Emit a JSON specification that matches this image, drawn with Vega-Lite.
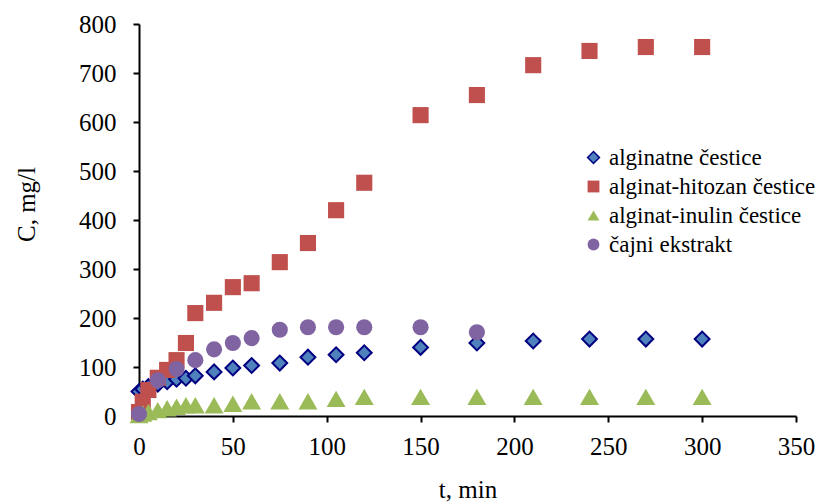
{
  "$schema": "https://vega.github.io/schema/vega-lite/v6.json",
  "width": 657,
  "height": 392,
  "autosize": {"type": "none"},
  "padding": {"left": 139, "top": 24, "right": 36, "bottom": 88},
  "background": "white",
  "config": {
    "view": {"stroke": null},
    "font": "Liberation Serif",
    "style": {"guide-label": {"font": "Liberation Serif", "fill": "black"}, "guide-title": {"font": "Liberation Serif"}},
    "legend": {"labelFont": "Liberation Serif", "labelFontSize": 23, "labelColor": "black"}
  },
  "data": {
    "values": [
      {"s": "alginatne čestice", "t": 0, "C": 50},
      {"s": "alginatne čestice", "t": 2, "C": 55},
      {"s": "alginatne čestice", "t": 5, "C": 60},
      {"s": "alginatne čestice", "t": 10, "C": 65},
      {"s": "alginatne čestice", "t": 15, "C": 70},
      {"s": "alginatne čestice", "t": 20, "C": 75},
      {"s": "alginatne čestice", "t": 25, "C": 77},
      {"s": "alginatne čestice", "t": 30, "C": 82},
      {"s": "alginatne čestice", "t": 40, "C": 90},
      {"s": "alginatne čestice", "t": 50, "C": 98},
      {"s": "alginatne čestice", "t": 60, "C": 103},
      {"s": "alginatne čestice", "t": 75, "C": 108},
      {"s": "alginatne čestice", "t": 90, "C": 120},
      {"s": "alginatne čestice", "t": 105, "C": 125},
      {"s": "alginatne čestice", "t": 120, "C": 129},
      {"s": "alginatne čestice", "t": 150, "C": 140},
      {"s": "alginatne čestice", "t": 180, "C": 149},
      {"s": "alginatne čestice", "t": 210, "C": 153},
      {"s": "alginatne čestice", "t": 240, "C": 157},
      {"s": "alginatne čestice", "t": 270, "C": 157},
      {"s": "alginatne čestice", "t": 300, "C": 157},
      {"s": "alginat-hitozan čestice", "t": 0, "C": 8},
      {"s": "alginat-hitozan čestice", "t": 2, "C": 29},
      {"s": "alginat-hitozan čestice", "t": 5, "C": 53},
      {"s": "alginat-hitozan čestice", "t": 10, "C": 78},
      {"s": "alginat-hitozan čestice", "t": 15, "C": 94},
      {"s": "alginat-hitozan čestice", "t": 20, "C": 114},
      {"s": "alginat-hitozan čestice", "t": 25, "C": 149},
      {"s": "alginat-hitozan čestice", "t": 30, "C": 210},
      {"s": "alginat-hitozan čestice", "t": 40, "C": 231},
      {"s": "alginat-hitozan čestice", "t": 50, "C": 263},
      {"s": "alginat-hitozan čestice", "t": 60, "C": 271},
      {"s": "alginat-hitozan čestice", "t": 75, "C": 314},
      {"s": "alginat-hitozan čestice", "t": 90, "C": 353},
      {"s": "alginat-hitozan čestice", "t": 105, "C": 420},
      {"s": "alginat-hitozan čestice", "t": 120, "C": 476},
      {"s": "alginat-hitozan čestice", "t": 150, "C": 614},
      {"s": "alginat-hitozan čestice", "t": 180, "C": 655},
      {"s": "alginat-hitozan čestice", "t": 210, "C": 716},
      {"s": "alginat-hitozan čestice", "t": 240, "C": 745},
      {"s": "alginat-hitozan čestice", "t": 270, "C": 753},
      {"s": "alginat-hitozan čestice", "t": 300, "C": 753},
      {"s": "alginat-inulin čestice", "t": 0, "C": 2},
      {"s": "alginat-inulin čestice", "t": 2, "C": 5},
      {"s": "alginat-inulin čestice", "t": 5, "C": 8},
      {"s": "alginat-inulin čestice", "t": 10, "C": 12},
      {"s": "alginat-inulin čestice", "t": 15, "C": 16},
      {"s": "alginat-inulin čestice", "t": 20, "C": 19},
      {"s": "alginat-inulin čestice", "t": 25, "C": 22},
      {"s": "alginat-inulin čestice", "t": 30, "C": 22},
      {"s": "alginat-inulin čestice", "t": 40, "C": 22},
      {"s": "alginat-inulin čestice", "t": 50, "C": 25},
      {"s": "alginat-inulin čestice", "t": 60, "C": 30},
      {"s": "alginat-inulin čestice", "t": 75, "C": 30},
      {"s": "alginat-inulin čestice", "t": 90, "C": 30},
      {"s": "alginat-inulin čestice", "t": 105, "C": 35},
      {"s": "alginat-inulin čestice", "t": 120, "C": 39},
      {"s": "alginat-inulin čestice", "t": 150, "C": 39},
      {"s": "alginat-inulin čestice", "t": 180, "C": 39},
      {"s": "alginat-inulin čestice", "t": 210, "C": 39},
      {"s": "alginat-inulin čestice", "t": 240, "C": 39},
      {"s": "alginat-inulin čestice", "t": 270, "C": 39},
      {"s": "alginat-inulin čestice", "t": 300, "C": 39},
      {"s": "čajni ekstrakt", "t": 0, "C": 4},
      {"s": "čajni ekstrakt", "t": 10, "C": 73},
      {"s": "čajni ekstrakt", "t": 20, "C": 96},
      {"s": "čajni ekstrakt", "t": 30, "C": 114},
      {"s": "čajni ekstrakt", "t": 40, "C": 136},
      {"s": "čajni ekstrakt", "t": 50, "C": 149},
      {"s": "čajni ekstrakt", "t": 60, "C": 159},
      {"s": "čajni ekstrakt", "t": 75, "C": 176},
      {"s": "čajni ekstrakt", "t": 90, "C": 181},
      {"s": "čajni ekstrakt", "t": 105, "C": 181},
      {"s": "čajni ekstrakt", "t": 120, "C": 181},
      {"s": "čajni ekstrakt", "t": 150, "C": 181},
      {"s": "čajni ekstrakt", "t": 180, "C": 171}
    ]
  },
  "encoding": {
    "x": {
      "field": "t", "type": "quantitative",
      "scale": {"domain": [0, 350], "nice": false, "zero": true},
      "axis": {
        "title": "t, min", "values": [0, 50, 100, 150, 200, 250, 300, 350],
        "grid": false, "domainColor": "black", "domainWidth": 2, "tickColor": "black", "tickWidth": 2, "tickSize": 6,
        "labelFont": "Liberation Serif", "labelFontSize": 25, "labelColor": "black", "labelPadding": 12, "labelFlush": false,
        "titleFont": "Liberation Serif", "titleFontSize": 25, "titleFontWeight": "normal", "titleColor": "black", "titlePadding": 18
      }
    },
    "y": {
      "field": "C", "type": "quantitative",
      "scale": {"domain": [0, 800], "nice": false},
      "axis": {
        "title": "C, mg/l", "values": [0, 100, 200, 300, 400, 500, 600, 700, 800],
        "grid": false, "domainColor": "black", "domainWidth": 2, "tickColor": "black", "tickWidth": 2, "tickSize": 6,
        "labelFont": "Liberation Serif", "labelFontSize": 25, "labelColor": "black", "labelPadding": 17, "labelFlush": false,
        "titleFont": "Liberation Serif", "titleFontSize": 25, "titleFontWeight": "normal", "titleColor": "black",
        "titleX": -100, "titleY": 180
      }
    },
    "shape": {
      "field": "s", "type": "nominal",
      "scale": {
        "domain": ["alginatne čestice", "alginat-hitozan čestice", "alginat-inulin čestice", "čajni ekstrakt"],
        "range": ["diamond", "square", "triangle-up", "circle"]
      },
      "legend": {
        "title": null, "orient": "none", "legendX": 443, "legendY": 122,
        "labelFont": "Liberation Serif", "labelFontSize": 23, "labelColor": "black",
        "symbolSize": 140, "symbolStrokeWidth": 1.5, "rowPadding": 5, "labelOffset": 4, "labelLimit": 400
      }
    },
    "fill": {
      "field": "s", "type": "nominal",
      "scale": {
        "domain": ["alginatne čestice", "alginat-hitozan čestice", "alginat-inulin čestice", "čajni ekstrakt"],
        "range": ["#4F81BD", "#C0504D", "#9BBB59", "#8064A2"]
      },
      "legend": {
        "title": null, "orient": "none", "legendX": 443, "legendY": 122,
        "labelFont": "Liberation Serif", "labelFontSize": 23, "labelColor": "black",
        "symbolSize": 140, "symbolStrokeWidth": 1.5, "rowPadding": 5, "labelOffset": 4, "labelLimit": 400
      }
    },
    "stroke": {
      "field": "s", "type": "nominal",
      "scale": {
        "domain": ["alginatne čestice", "alginat-hitozan čestice", "alginat-inulin čestice", "čajni ekstrakt"],
        "range": ["#000080", "rgba(0,0,0,0)", "rgba(0,0,0,0)", "rgba(0,0,0,0)"]
      },
      "legend": {
        "title": null, "orient": "none", "legendX": 443, "legendY": 122,
        "labelFont": "Liberation Serif", "labelFontSize": 23, "labelColor": "black",
        "symbolSize": 140, "symbolStrokeWidth": 1.5, "rowPadding": 5, "labelOffset": 4, "labelLimit": 400
      }
    }
  },
  "layer": [
    {
      "transform": [{"filter": "datum.s === 'alginatne čestice'"}],
      "mark": {"type": "point", "filled": true, "opacity": 1, "strokeWidth": 2, "size": 220}
    },
    {
      "transform": [{"filter": "datum.s === 'alginat-hitozan čestice'"}],
      "mark": {"type": "point", "filled": true, "opacity": 1, "strokeWidth": 2, "size": 260}
    },
    {
      "transform": [{"filter": "datum.s === 'alginat-inulin čestice'"}],
      "mark": {"type": "point", "filled": true, "opacity": 1, "strokeWidth": 2, "size": 360}
    },
    {
      "transform": [{"filter": "datum.s === 'čajni ekstrakt'"}],
      "mark": {"type": "point", "filled": true, "opacity": 1, "strokeWidth": 2, "size": 260}
    }
  ]
}
